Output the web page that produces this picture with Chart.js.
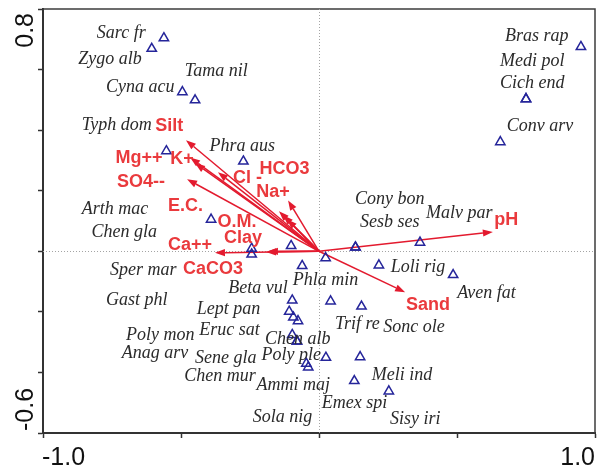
<!DOCTYPE html>
<html>
<head>
<meta charset="utf-8">
<script src="https://cdn.jsdelivr.net/npm/chart.js@4.4.1/dist/chart.umd.min.js"></script>
<style>
  html, body { margin: 0; padding: 0; background: #fff; }
  #wrap { width: 604px; height: 470px; }
</style>
</head>
<body>
<div id="wrap"><canvas id="c" width="604" height="470"></canvas></div>
<script>
// Species scores (axis 1, axis 2)
const species = ['Sarc fr','Zygo alb','Cyna acu','Tama nil','Typh dom','Phra aus','Arth mac','Chen gla',
  'Sper mar','Gast phl','Beta vul','Phla min','Cony bon','Sesb ses','Malv par','Loli rig','Aven fat',
  'Lept pan','Eruc sat','Poly mon','Anag arv','Trif re','Sonc ole','Sene gla','Chen mur','Chen alb',
  'Poly ple','Meli ind','Ammi maj','Sola nig','Emex spi','Sisy iri','Bras rap','Medi pol','Cich end','Conv arv'];
const speciesX = [-0.562,-0.606,-0.495,-0.449,-0.553,-0.274,-0.391,-0.244,
  -0.244,-0.101,-0.061,0.024,0.132,0.132,0.366,0.217,0.486,
  -0.097,-0.108,-0.093,-0.076,0.042,0.154,-0.097,-0.080,0.025,
  -0.080,0.149,-0.046,-0.039,0.128,0.253,0.949,0.750,0.750,0.657];
const speciesY = [0.704,0.669,0.526,0.499,0.331,0.297,0.105,0.009,
  -0.010,0.018,-0.048,-0.022,0.013,0.013,0.029,-0.046,-0.078,
  -0.162,-0.199,-0.218,-0.230,-0.165,-0.182,-0.276,-0.297,-0.351,
  -0.297,-0.349,-0.371,-0.383,-0.428,-0.462,0.675,0.503,0.503,0.361];
// Where each species name is written (left edge, middle), in axis units
const speciesLabelX = [-0.805,-0.872,-0.772,-0.486,-0.860,-0.397,-0.860,-0.824,
  -0.757,-0.772,-0.329,-0.095,0.130,0.149,0.388,0.260,0.501,
  -0.443,-0.434,-0.699,-0.715,0.058,0.233,-0.449,-0.488,-0.196,
  -0.208,0.191,-0.226,-0.240,0.010,0.257,0.674,0.656,0.656,0.680];
const speciesLabelY = [0.719,0.633,0.541,0.595,0.416,0.348,0.138,0.063,
  -0.063,-0.162,-0.123,-0.096,0.171,0.097,0.125,-0.052,-0.138,
  -0.193,-0.261,-0.277,-0.338,-0.241,-0.252,-0.354,-0.413,-0.292,
  -0.343,-0.410,-0.443,-0.547,-0.503,-0.556,0.710,0.628,0.556,0.413];

// Environmental variables: arrow tips and label centres
const envNames = ['Silt','Mg++','K+','SO4--','Cl -','HCO3','Na+','E.C.','O.M.','Clay','Ca++','CaCO3','pH','Sand'];
const envX = [-0.482,-0.449,-0.467,-0.478,-0.366,-0.145,-0.112,-0.130,-0.116,-0.185,-0.377,-0.192,0.630,0.312];
const envY = [0.367,0.291,0.310,0.238,0.261,0.132,0.168,0.119,0.106,0.000,-0.005,-0.002,0.064,-0.135];
const envLabelX = [-0.543,-0.652,-0.496,-0.645,-0.259,-0.125,-0.167,-0.484,-0.297,-0.275,-0.467,-0.384,0.678,0.395];
const envLabelY = [0.413,0.307,0.306,0.228,0.243,0.272,0.195,0.149,0.096,0.043,0.020,-0.057,0.102,-0.178];

// Axis end labels
const xTickValues = [-1.0, 1.0];
const xTickLabels = ['-1.0', '1.0'];
const yTickValues = [-0.6, 0.8];
const yTickLabels = ['-0.6', '0.8'];

const ARROW = '#e31a2e';
const ENV_TEXT = '#ea3a3d';
const SPECIES_TEXT = '#2b2b2b';
const POINT = '#25259a';

const biplot = {
  id: 'biplot',
  beforeDatasetsDraw(chart) {
    const { ctx, chartArea: a, scales: { x, y } } = chart;
    ctx.save();
    // frame on top and right
    ctx.strokeStyle = '#3c3c3c';
    ctx.lineWidth = 1.5;
    ctx.beginPath();
    ctx.moveTo(a.left, a.top);
    ctx.lineTo(a.right, a.top);
    ctx.lineTo(a.right, a.bottom);
    ctx.stroke();
    // dotted zero lines
    const x0 = Math.round(x.getPixelForValue(0)) + 0.5;
    const y0 = Math.round(y.getPixelForValue(0)) + 0.5;
    ctx.strokeStyle = '#a4a4a4';
    ctx.lineWidth = 1;
    ctx.setLineDash([1, 2]);
    ctx.beginPath();
    ctx.moveTo(x0, a.top); ctx.lineTo(x0, a.bottom);
    ctx.moveTo(a.left, y0); ctx.lineTo(a.right, y0);
    ctx.stroke();
    ctx.setLineDash([]);
    // environmental arrows
    const ox = x.getPixelForValue(0), oy = y.getPixelForValue(0);
    ctx.strokeStyle = ARROW;
    ctx.fillStyle = ARROW;
    ctx.lineWidth = 1.5;
    envNames.forEach((n, i) => {
      const tx = x.getPixelForValue(envX[i]);
      const ty = y.getPixelForValue(envY[i]);
      const ang = Math.atan2(ty - oy, tx - ox);
      const L = 10, W = 3.6;
      const bx = tx - L * Math.cos(ang), by = ty - L * Math.sin(ang);
      ctx.beginPath();
      ctx.moveTo(ox, oy);
      ctx.lineTo(bx, by);
      ctx.stroke();
      ctx.beginPath();
      ctx.moveTo(tx, ty);
      ctx.lineTo(bx - W * Math.sin(ang), by + W * Math.cos(ang));
      ctx.lineTo(bx + W * Math.sin(ang), by - W * Math.cos(ang));
      ctx.closePath();
      ctx.fill();
    });
    ctx.restore();
  },
  afterDraw(chart) {
    const { ctx, chartArea: a, scales: { x, y } } = chart;
    ctx.save();
    // species names
    ctx.font = 'italic 18px "Liberation Serif", "Times New Roman", serif';
    ctx.fillStyle = SPECIES_TEXT;
    ctx.textAlign = 'left';
    ctx.textBaseline = 'middle';
    species.forEach((s, i) => {
      ctx.fillText(s, x.getPixelForValue(speciesLabelX[i]), y.getPixelForValue(speciesLabelY[i]));
    });
    // variable names
    ctx.font = 'bold 18px "Liberation Sans", Arial, sans-serif';
    ctx.fillStyle = ENV_TEXT;
    ctx.textAlign = 'center';
    envNames.forEach((n, i) => {
      ctx.fillText(n, x.getPixelForValue(envLabelX[i]), y.getPixelForValue(envLabelY[i]));
    });
    // axis end labels
    ctx.font = '25px "Liberation Sans", Arial, sans-serif';
    ctx.fillStyle = '#111';
    ctx.textBaseline = 'alphabetic';
    xTickValues.forEach((v, i) => {
      ctx.textAlign = i === 0 ? 'left' : 'right';
      ctx.fillText(xTickLabels[i], x.getPixelForValue(v) + (i === 0 ? -1 : 0), a.bottom + 32);
    });
    yTickValues.forEach((v, i) => {
      ctx.save();
      const py = y.getPixelForValue(v);
      ctx.translate(a.left - 10, i === 0 ? py - 2 : py + 4);
      ctx.rotate(-Math.PI / 2);
      ctx.textAlign = i === 0 ? 'left' : 'right';
      ctx.fillText(yTickLabels[i], 0, 0);
      ctx.restore();
    });
    ctx.restore();
  }
};

const axisCommon = {
  type: 'linear',
  ticks: { display: false },
  grid: { drawOnChartArea: false, drawTicks: true, tickLength: 5, tickColor: '#333', tickWidth: 1.5 },
  border: { display: true, color: '#333', width: 2 }
};

new Chart(document.getElementById('c'), {
  type: 'scatter',
  data: {
    datasets: [{
      data: species.map((s, i) => ({ x: speciesX[i], y: speciesY[i] })),
      pointStyle: 'triangle',
      pointRadius: 5.4,
      pointHoverRadius: 5.4,
      borderColor: POINT,
      backgroundColor: 'rgba(0,0,0,0)',
      borderWidth: 1.5
    }]
  },
  options: {
    responsive: false,
    devicePixelRatio: 1,
    animation: false,
    layout: { padding: { left: 0, right: 9, top: 9, bottom: 0 } },
    plugins: { legend: { display: false }, tooltip: { enabled: false } },
    scales: {
      x: Object.assign({}, axisCommon, {
        min: -1, max: 1,
        ticks: { display: false, stepSize: 0.5 },
        afterFit(s) { s.height = 37; }
      }),
      y: Object.assign({}, axisCommon, {
        min: -0.6, max: 0.8,
        ticks: { display: false, stepSize: 0.2 },
        afterFit(s) { s.width = 43; }
      })
    }
  },
  plugins: [biplot]
});
</script>
</body>
</html>
